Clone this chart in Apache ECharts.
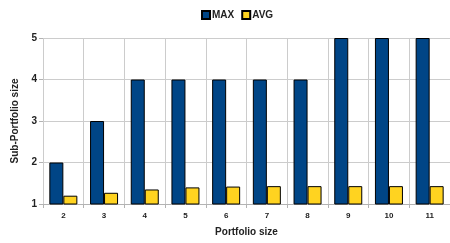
<!DOCTYPE html>
<html>
<head>
<meta charset="utf-8">
<script src="https://cdn.jsdelivr.net/npm/echarts@6/dist/echarts.min.js"></script>
<style>
  html, body { margin: 0; padding: 0; background: #fff; }
  #chart { width: 450px; height: 243px; }
</style>
</head>
<body>
<div id="chart"></div>
<script>
// portfolio sizes on the x axis
var categories = ['2', '3', '4', '5', '6', '7', '8', '9', '10', '11'];
// sub-portfolio sizes
var maxValues = [2, 3, 4, 4, 4, 4, 4, 5, 5, 5];
var avgValues = [1.2, 1.27, 1.35, 1.4, 1.42, 1.43, 1.43, 1.43, 1.43, 1.43];

var chart = echarts.init(document.getElementById('chart'));
var font = 'Liberation Sans, Arial, sans-serif';

chart.setOption({
    animation: false,
    textStyle: { fontFamily: font },
    legend: {
        top: 5,
        left: 196,
        itemWidth: 8,
        itemHeight: 8,
        itemGap: 7,
        icon: 'rect',
        textStyle: { fontSize: 10, fontWeight: 'bold', color: '#222', padding: [0, 0, 0, -3] },
        data: ['MAX', 'AVG']
    },
    grid: { left: 43, right: -2, top: 38, bottom: 39, containLabel: false },
    xAxis: {
        type: 'category',
        data: categories,
        name: 'Portfolio size',
        nameLocation: 'middle',
        nameGap: 23,
        nameTextStyle: { fontSize: 10, fontWeight: 'bold', color: '#222' },
        axisLine: { lineStyle: { color: '#b3b3b3' } },
        axisTick: { show: true, length: 4, lineStyle: { color: '#b3b3b3' } },
        axisLabel: { fontSize: 8, fontWeight: 'bold', color: '#222', margin: 8 },
        splitLine: { show: true, lineStyle: { color: '#cccccc' } }
    },
    yAxis: {
        type: 'value',
        min: 1,
        max: 5,
        interval: 1,
        name: 'Sub-Portfolio size',
        nameLocation: 'middle',
        nameGap: 23,
        nameTextStyle: { fontSize: 10, fontWeight: 'bold', color: '#222' },
        axisLine: { show: false },
        axisTick: { show: true, length: 4, lineStyle: { color: '#b3b3b3' } },
        axisLabel: { fontSize: 10, fontWeight: 'bold', color: '#222', margin: 6 },
        splitLine: { show: true, lineStyle: { color: '#cccccc' } }
    },
    series: [
        {
            name: 'MAX',
            type: 'bar',
            data: maxValues,
            barWidth: 14,
            barGap: '0%',
            itemStyle: { color: '#004586', borderColor: '#000', borderWidth: 1 }
        },
        {
            name: 'AVG',
            type: 'bar',
            data: avgValues,
            barWidth: 14,
            itemStyle: { color: '#ffd320', borderColor: '#000', borderWidth: 1 }
        }
    ]
});
</script>
</body>
</html>
